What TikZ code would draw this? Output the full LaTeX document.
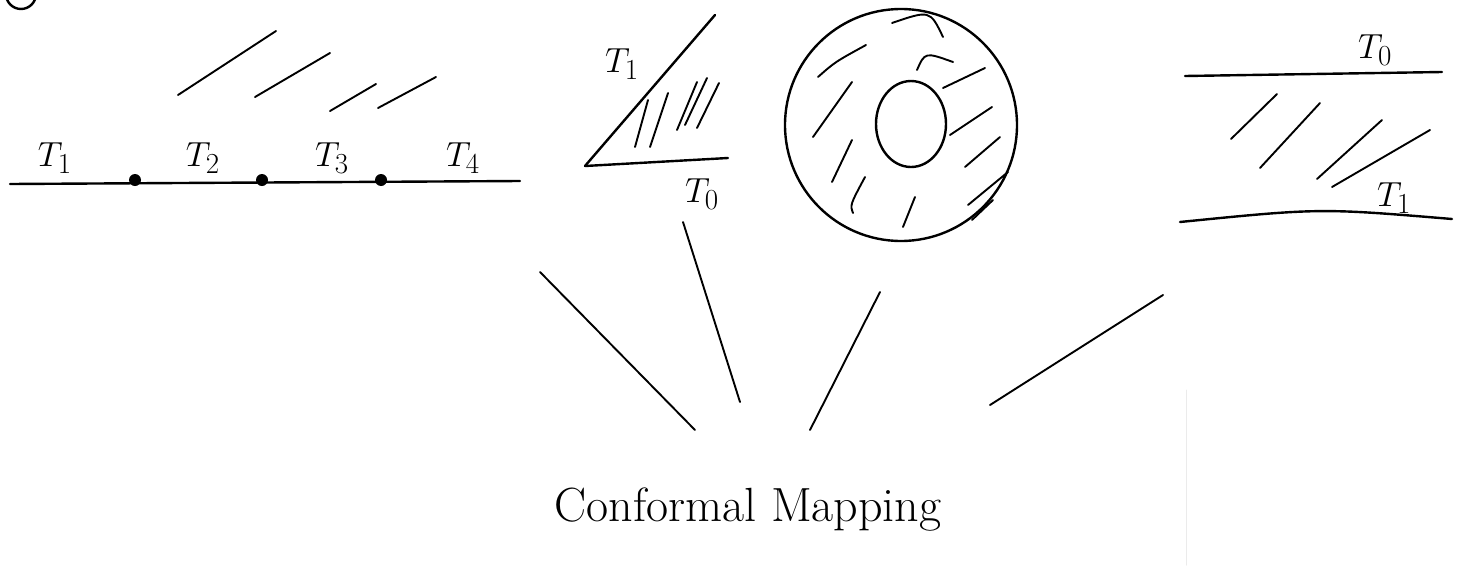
\documentclass[tikz,border=0pt]{standalone}
\begin{document}
\begin{tikzpicture}[x=1pt,y=-1pt,line width=2.4pt,line cap=round,
    lbl/.style={font=\Huge,scale=1.4},
    hatch/.style={line width=1.9pt}]
    \useasboundingbox (0,0) rectangle (1459,565);
    \draw (36,-6) arc (0:180:15);
    % boundary with three points
    \draw (10,184) -- (520,181);
    \foreach \x in {135,262,381} \fill (\x,180) circle (6);
    \node[lbl] (t1) at (55,158) {$T_1$};
    \node[lbl] (t2) at (203,158) {$T_2$};
    \node[lbl] (t3) at (332,158) {$T_3$};
    \node[lbl] (t4) at (463,158) {$T_4$};
    \draw[hatch] (178,95) -- (276,31);
    \draw[hatch] (255,97) -- (330,53);
    \draw[hatch] (330,111) -- (376,84);
    \draw[hatch] (378,108) -- (436,77);
    % wedge
    \draw (585,166) -- (715,15);
    \draw (585,166) -- (728,158);
    \node[lbl] (w1) at (622,64) {$T_1$};
    \node[lbl] (w0) at (702,194) {$T_0$};
    \draw[hatch] (635,147) -- (648,100);
    \draw[hatch] (650,147) -- (668,93);
    \draw[hatch] (677,130) -- (697,82);
    \draw[hatch] (685,125) -- (707,78);
    \draw[hatch] (697,128) -- (719,83);
    % annulus
    \draw (901,125) circle (116);
    \draw (911,124) ellipse (35 and 43);
    \draw[hatch] (818,77) .. controls (835,62) .. (866,45);
    \draw[hatch] (813,137) -- (852,82);
    \draw[hatch] (832,182) -- (852,140);
    \draw[hatch] (853,213) .. controls (850,205) .. (865,177);
    \draw[hatch] (903,227) -- (915,197);
    \draw[hatch] (892,23) .. controls (930,10) .. (943,37);
    \draw[hatch] (917,70) .. controls (925,52) .. (953,62);
    \draw[hatch] (943,88) -- (985,68);
    \draw[hatch] (950,135) -- (992,107);
    \draw[hatch] (965,167) -- (1000,137);
    \draw[hatch] (968,205) -- (1008,172);
    \draw[hatch] (972,220) -- (993,200);
    % strip
    \draw (1185,76) -- (1442,72);
    \draw (1180,222) .. controls (1320,208) .. (1452,219);
    \node[lbl] (s0) at (1375,50) {$T_0$};
    \node[lbl] (s1) at (1394,198) {$T_1$};
    \draw[hatch] (1231,139) -- (1277,94);
    \draw[hatch] (1260,168) -- (1320,103);
    \draw[hatch] (1317,179) -- (1382,120);
    \draw[hatch] (1332,187) -- (1430,130);
    % mapping
    \node[font=\fontsize{48}{52}\selectfont] (cm) at (748,510) {Conformal Mapping};
    \coordinate (a1) at (540,272);
    \coordinate (a2) at (695,430);
    \coordinate (b1) at (683,222);
    \coordinate (b2) at (740,402);
    \coordinate (c1) at (880,292);
    \coordinate (c2) at (810,430);
    \coordinate (d1) at (1163,295);
    \coordinate (d2) at (990,405);
    \draw[hatch] (a1) -- (a2);
    \draw[hatch] (b1) -- (b2);
    \draw[hatch] (c1) -- (c2);
    \draw[hatch] (d1) -- (d2);
    \draw[black!8,line width=1pt] (1186,390) -- (1186,565);
\end{tikzpicture}
\end{document}
